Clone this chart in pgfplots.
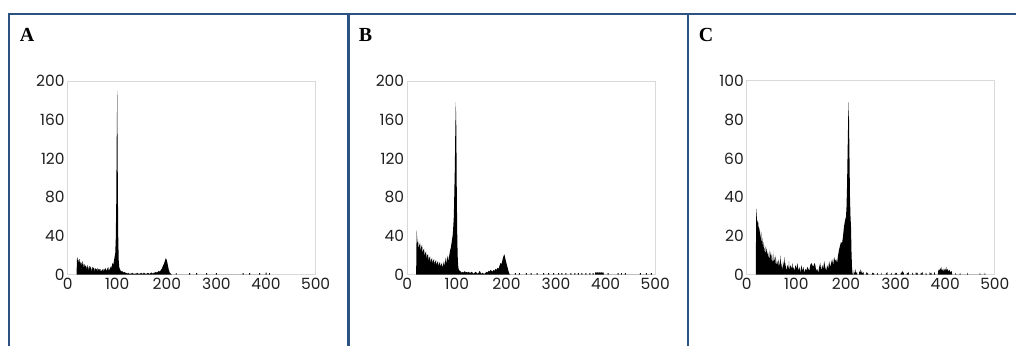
\documentclass[border=0pt]{standalone}
\usepackage{pgfplots}
\pgfplotsset{compat=1.18}
\usepackage{fontspec}
\newfontfamily\tickfont{Poppins}
\newfontfamily\labfont{Liberation Serif}
\definecolor{frameblue}{RGB}{44,82,130}
\pgfplotsset{
  hist/.style={
    scale only axis, width=248.3pt, height=194pt,
    anchor=south west,
    xmin=0, xmax=500, ymin=0,
    xtick={0,100,...,500},
    axis line style={draw=black!15, line width=0.8pt},
    major tick length=0pt,
    /pgf/number format/assume math mode=true,
    ticklabel style={font=\tickfont\fontsize{15.5}{17}\selectfont, text=black!88},
    xticklabel style={yshift=0pt},
    yticklabel style={xshift=0.5pt},
  }
}
\begin{document}
\begin{tikzpicture}
\path (0,0) rectangle (1017pt,346pt);
\draw[frameblue, line width=2.4pt] (9pt,0pt) -- (9pt,332pt) -- (1017pt,332pt);
\draw[frameblue, line width=2.4pt] (349pt,0pt) -- (349pt,332pt);
\draw[frameblue, line width=2.4pt] (689pt,0pt) -- (689pt,332pt);
\node[font=\labfont\bfseries\fontsize{20}{22}\selectfont] at (27pt,311pt) {A};
\node[font=\labfont\bfseries\fontsize{20}{22}\selectfont] at (366pt,311pt) {B};
\node[font=\labfont\bfseries\fontsize{20}{22}\selectfont] at (707pt,311pt) {C};

\begin{axis}[hist, at={(67.7pt,71pt)}, ymax=200, ytick={0,40,...,200}]
\addplot[fill=black, draw=none] table {
x y
18 0
19 18
20 17
21 12
22 15
24 16
25 10
26 13
28 12
29 8
30 14
32 10
33 6
34 11
36 9
38 8
39 5
40 10
42 7
43 4
44 9
46 8
48 6
49 3
50 8
52 7
54 6
55 3
56 7
58 5
60 7
61 3
62 6
64 5
66 6
67 3
68 4
70 5
72 6
73 3
74 5
76 7
78 4
80 6
82 8
83 4
84 5
86 7
88 9
89 5
90 12
92 10
94 16
96 22
97 35
98 70
99 140
100 190
101 110
102 40
103 15
104 8
106 5
108 3
110 4
112 2
114 3
116 2
118 2
120 1
122 2
124 1
126 1
128 1
130 2
132 1
134 1
136 1
138 1
140 2
142 1
144 1
146 1
148 2
150 1
152 1
154 2
156 1
158 1
160 1
162 2
164 1
166 1
168 2
170 2
172 1
174 2
176 2
178 3
180 2
182 3
184 4
186 3
188 5
190 6
192 9
194 11
196 14
198 17
200 15
202 10
204 5
206 2
208 1
210 0
218 0
218 1.5
220 1.5
220 0
245 0
245 1.5
247 1.5
247 0
259 0
259 1.5
261 1.5
261 0
279 0
279 1.5
281 1.5
281 0
299 0
299 1.5
301 1.5
301 0
353 0
353 1.5
355 1.5
355 0
366 0
366 1.5
368 1.5
368 0
386 0
386 1.5
388 1.5
388 0
399 0
399 2
401 2
401 0
406 0
406 1.5
408 1.5
408 0
} \closedcycle;
\end{axis}

\begin{axis}[hist, at={(407.7pt,71pt)}, ymax=200, ytick={0,40,...,200}]
\addplot[fill=black, draw=none] table {
x y
18 0
19 46
20 38
21 32
22 35
23 26
24 30
26 33
27 24
28 28
30 31
31 22
32 25
34 27
35 19
36 22
38 24
39 16
40 20
42 21
43 14
44 17
46 19
47 12
48 15
50 17
51 11
52 14
54 16
55 10
56 13
58 15
59 9
60 12
62 14
63 8
64 11
66 13
67 8
68 10
70 12
71 7
72 9
74 14
75 8
76 12
78 18
79 10
80 15
82 20
83 13
84 17
86 24
88 28
90 35
92 42
94 60
96 110
97 150
98 178
99 150
100 80
101 35
102 15
103 8
104 5
106 4
108 3
110 2
112 3
114 2
116 4
118 2
120 3
122 2
124 3
126 2
128 2
130 3
132 2
134 1
136 2
138 3
140 2
142 1
144 2
146 4
148 2
150 1
152 2
154 1
156 1
158 2
160 3
162 2
164 4
166 3
168 5
170 4
172 3
174 5
176 4
178 6
180 5
182 7
184 6
186 9
188 12
190 11
192 15
194 19
196 21
198 16
200 12
202 8
204 4
206 1
208 0
217 0
217 1.5
219 1.5
219 0
225 0
225 1.5
227 1.5
227 0
239 0
239 1.5
241 1.5
241 0
249 0
249 1.5
251 1.5
251 0
261 0
261 1.5
263 1.5
263 0
274 0
274 1.5
276 1.5
276 0
284 0
284 1.5
286 1.5
286 0
294 0
294 1.5
296 1.5
296 0
304 0
304 1.5
306 1.5
306 0
311 0
311 1.5
313 1.5
313 0
319 0
319 1.5
321 1.5
321 0
329 0
329 1.5
331 1.5
331 0
337 0
337 1.5
339 1.5
339 0
344 0
344 1.5
346 1.5
346 0
351 0
351 1.5
353 1.5
353 0
359 0
359 1.5
361 1.5
361 0
367 0
367 1.5
369 1.5
369 0
374 0
374 1.5
376 1.5
376 0
379 0
379 2.5
381 2
383 2.5
385 2
387 2.5
389 2
391 2.5
393 2
395 2.5
397 0
404 0
404 1.5
406 1.5
406 0
424 0
424 1.5
426 1.5
426 0
431 0
431 1.5
433 1.5
433 0
439 0
439 1.5
441 1.5
441 0
469 0
469 1.5
471 1.5
471 0
481 0
481 1.5
483 1.5
483 0
491 0
491 1.5
493 1.5
493 0
} \closedcycle;
\end{axis}

\begin{axis}[hist, at={(747.7pt,71pt)}, ymax=100, ytick={0,20,...,100}]
\addplot[fill=black, draw=none] table {
x y
18 0
19 34
20 30
21 26
22 28
23 22
24 27
25 20
26 24
28 18
29 22
30 15
31 19
32 16
33 13
34 17
36 11
37 15
38 10
40 14
41 9
42 12
44 8
45 13
46 7
48 12
49 6
50 11
52 5
53 12
54 6
56 9
57 4
58 10
60 5
62 7
63 3
64 8
66 4
68 10
69 3
70 6
72 2
73 7
74 4
76 9
77 3
78 6
80 2
82 5
84 3
85 7
86 2
88 5
90 3
92 6
93 2
94 4
96 2
98 5
100 3
102 6
104 2
106 4
108 1
110 5
112 2
114 4
116 1
118 3
120 2
122 4
124 3
126 2
128 5
130 6
132 5
134 4
136 6
138 5
140 2
142 3
144 1
146 4
148 6
150 2
152 5
154 3
156 7
158 4
160 2
162 5
164 3
166 7
168 4
170 6
172 8
174 5
176 9
178 7
180 8
182 6
184 10
186 13
188 15
190 17
192 16
194 20
196 25
198 28
200 30
201 35
202 45
203 60
204 75
205 89
206 80
207 60
208 40
209 30
210 25
211 12
212 4
213 1
214 0
215 0
216 2.5
217 0.5
218 1
219 3
220 0.5
222 1.5
223 0
226 0
227 2
228 1
229 3
230 0.5
232 2
233 0.5
235 1.5
236 0
240 0
241 1.5
242 0.5
244 1
245 0
252 0
253 1
255 0.5
256 1
257 0
262 0
263 1
265 0
270 0
271 1
272 0
280 0
281 1
282 0.5
283 1.5
284 0
290 0
291 1
293 0
298 0
299 1
300 0.5
302 1
303 0
310 0
311 1.5
312 0.5
314 2
315 0.5
316 1.5
317 0
322 0
323 1
324 0.5
326 1.5
327 0
333 0
334 1
336 0
340 0
341 1.5
342 0.5
344 1
345 0
350 0
351 1
352 0.5
354 1.5
355 0
360 0
361 1
363 0
368 0
369 1.5
370 0.5
372 1
373 0
377 0
378 1.5
380 0
385 0
386 2
388 3
389 1.5
390 3.5
392 2
393 4
394 2
396 3
397 1.5
399 3
400 2
402 4
403 2
405 3
407 1.5
409 2.5
411 1
413 2
414 0
420 0
421 1
422 0
429 0
430 1
431 0
444 0
445 1
446 0
469 0
470 1
471 0
479 0
480 1
481 0
} \closedcycle;
\end{axis}
\end{tikzpicture}
\end{document}
